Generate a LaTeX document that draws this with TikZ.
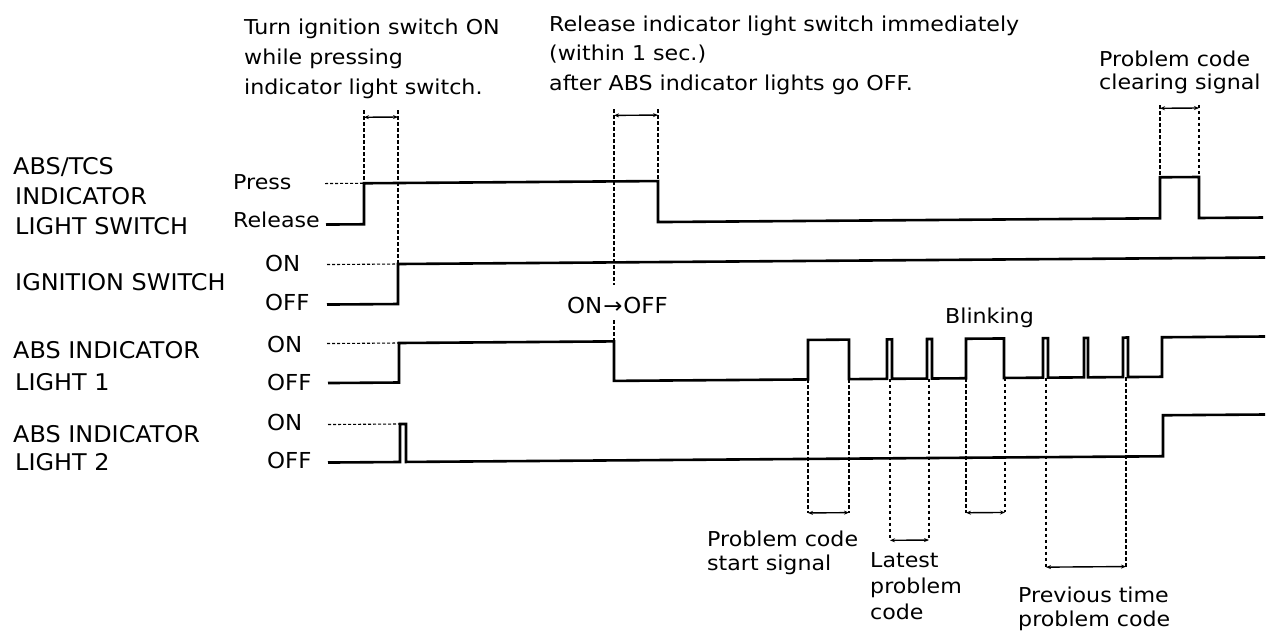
\documentclass[tikz,border=0pt]{standalone}
\usepackage{fontspec}
\setmainfont{DejaVu Sans}[FakeStretch=1.08]
\newfontfamily\capfont{DejaVu Sans}[FakeStretch=1.04]
\usetikzlibrary{arrows.meta}
\begin{document}
\begin{tikzpicture}[x=1pt,y=-1pt,
  txt/.style={inner sep=0pt, anchor=base west, font=\fontsize{20.5}{24}\selectfont},
  captxt/.style={inner sep=0pt, anchor=base west, font=\capfont\fontsize{23}{27}\selectfont},
  lvltxt/.style={inner sep=0pt, anchor=base west, font=\capfont\fontsize{22}{26}\selectfont},
  sigline/.style={line width=2.6pt, line join=miter},
  lvldash/.style={line width=1.1pt, dash pattern=on 3pt off 2pt},
  refline/.style={line width=1.2pt, dash pattern=on 3.5pt off 2.5pt},
  dimarrow/.style={line width=1.4pt, {Stealth[length=5pt,width=4pt]}-{Stealth[length=5pt,width=4pt]}},
]
\useasboundingbox (0,0) rectangle (1269,631);
\fill[white] (0,0) rectangle (1269,631);

% ---------- signal names ----------
\node[captxt] (n1) at (13,175) {ABS/TCS};
\node[captxt] (n2) at (15,205) {INDICATOR};
\node[captxt] (n3) at (15,235) {LIGHT SWITCH};
\node[captxt] (n4) at (15,290) {IGNITION SWITCH};
\node[captxt] (n5) at (13,358) {ABS INDICATOR};
\node[captxt] (n6) at (15,390) {LIGHT 1};
\node[captxt] (n7) at (13,442) {ABS INDICATOR};
\node[captxt] (n8) at (15,470) {LIGHT 2};

% ---------- level labels ----------
\node[txt] (press) at (233,190) {Press};
\node[txt] (release) at (233,228) {Release};
\node[lvltxt] (ig-on) at (265,272) {ON};
\node[lvltxt] (ig-off) at (265,310) {OFF};
\node[lvltxt] (l1-on) at (267,352) {ON};
\node[lvltxt] (l1-off) at (267,390) {OFF};
\node[lvltxt] (l2-on) at (267,430) {ON};
\node[lvltxt] (l2-off) at (267,468) {OFF};

% ---------- annotations ----------
\node[txt] (t1) at (244,35) {Turn ignition switch ON};
\node[txt] (t2) at (244,65) {while pressing};
\node[txt] (t3) at (244,95) {indicator light switch.};
\node[txt] (r1) at (549,32) {Release indicator light switch immediately};
\node[txt] (r2) at (549,61) {(within 1 sec.)};
\node[txt] (r3) at (549,91) {after ABS indicator lights go OFF.};
\node[txt] (c1) at (1099,67) {Problem code};
\node[txt] (c2) at (1099,90) {clearing signal};
\node[lvltxt] (onoff) at (567,313) {ON\kern1pt→\kern1ptOFF};
\node[txt] (blink) at (945,323) {Blinking};
\node[txt] (s1) at (707,546) {Problem code};
\node[txt] (s2) at (707,570) {start signal};
\node[txt] (lp1) at (870,567) {Latest};
\node[txt] (lp2) at (870,593) {problem};
\node[txt] (lp3) at (870,619) {code};
\node[txt] (pp1) at (1018,602) {Previous time};
\node[txt] (pp2) at (1018,626) {problem code};

% ---------- waveforms (scan is slightly skewed) ----------
\begin{scope}[yslant=0.0075]
\def\ySP{186}\def\ySR{227}
\def\yIN{267}\def\yIF{307}
\def\yAN{346}\def\yAF{385.5}
\def\yBN{427}\def\yBF{465}\def\yBH{424}

% ABS/TCS indicator light switch
\draw[lvldash] (325,\ySP) -- (364,\ySP);
\draw[sigline] (326,\ySR) -- (364,\ySR) -- (364,\ySP) -- (658,\ySP) -- (658,\ySR)
  -- (1160,\ySR) -- (1160,\ySP) -- (1199,\ySP) -- (1199,\ySR) -- (1263,\ySR);

% ignition switch
\draw[lvldash] (327,\yIN) -- (398,\yIN);
\draw[sigline] (327,\yIF) -- (398,\yIF) -- (398,\yIN) -- (1265,\yIN);

% ABS indicator light 1
\draw[lvldash] (327,\yAN) -- (399,\yAN);
\draw[sigline] (328,\yAF) -- (399,\yAF) -- (399,\yAN) -- (614,\yAN) -- (614,\yAF)
  -- (808,\yAF) -- (808,\yAN) -- (849,\yAN) -- (849,\yAF)
  -- (887,\yAF) -- (887,\yAN) -- (892,\yAN) -- (892,\yAF)
  -- (927,\yAF) -- (927,\yAN) -- (932,\yAN) -- (932,\yAF)
  -- (966,\yAF) -- (966,\yAN) -- (1004,\yAN) -- (1004,\yAF)
  -- (1043,\yAF) -- (1043,\yAN) -- (1048,\yAN) -- (1048,\yAF)
  -- (1084,\yAF) -- (1084,\yAN) -- (1088,\yAN) -- (1088,\yAF)
  -- (1123,\yAF) -- (1123,\yAN) -- (1128,\yAN) -- (1128,\yAF)
  -- (1162,\yAF) -- (1162,\yAN) -- (1265,\yAN);

% ABS indicator light 2
\draw[lvldash] (328,\yBN) -- (400,\yBN);
\draw[sigline] (328,\yBF) -- (400,\yBF) -- (400,\yBN) -- (406,\yBN) -- (406,\yBF)
  -- (1163,\yBF) -- (1163,\yBH) -- (1265,\yBH);

% ---------- reference lines and spans (top) ----------
\draw[refline] (364,113) -- (364,\ySP);
\draw[refline] (398,113) -- (398,\yIN);
\draw[dimarrow] (364,120) -- (398,120);

\draw[refline] (614,114) -- (614,290);
\draw[refline] (614,325) -- (614,\yAN);
\draw[refline] (658,114) -- (658,\ySP);
\draw[dimarrow] (614,120) -- (658,120);

\draw[refline] (1160,114) -- (1160,\ySP);
\draw[refline] (1199,114) -- (1199,\ySP);
\draw[dimarrow] (1160,117) -- (1199,117);

% ---------- reference lines and spans (bottom) ----------
\draw[refline] (808,\yAF) -- (808,519);
\draw[refline] (849,\yAF) -- (849,519);
\draw[dimarrow] (808,519) -- (849,519);

\draw[refline] (890,\yAF) -- (890,547);
\draw[refline] (929,\yAF) -- (929,547);
\draw[dimarrow] (890,547) -- (929,547);

\draw[refline] (966,\yAF) -- (966,520);
\draw[refline] (1005,\yAF) -- (1005,520);
\draw[dimarrow] (966,520) -- (1005,520);

\draw[refline] (1046,\yAF) -- (1046,575);
\draw[refline] (1126,\yAF) -- (1126,575);
\draw[dimarrow] (1046,575) -- (1126,575);
\end{scope}
\end{tikzpicture}
\end{document}
